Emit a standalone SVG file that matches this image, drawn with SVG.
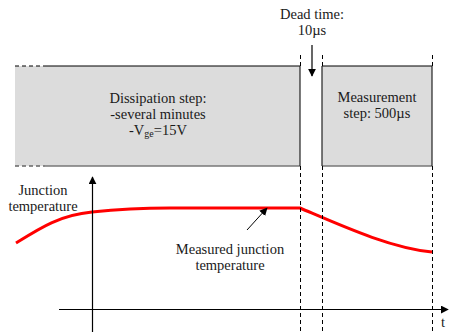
<svg xmlns="http://www.w3.org/2000/svg" width="451" height="332" viewBox="0 0 451 332">
<defs>
<style>
text{font-family:"Liberation Serif","Times New Roman",serif;font-size:14.5px;fill:#1a1a1a}
.dash{stroke:#000;stroke-width:1;stroke-dasharray:4 3;fill:none}
.ax{stroke:#000;stroke-width:1.2;fill:none}
.box{fill:#dcdcdc}
</style>
<marker id="ah" viewBox="0 0 10 10" refX="9" refY="5" markerWidth="8" markerHeight="8" markerUnits="userSpaceOnUse" orient="auto"><path d="M0,0L10,5L0,10z" fill="#000"/></marker>
</defs>
<g id="dissipation">
<rect class="box" x="15" y="66" width="285" height="100"/>
<line x1="15" y1="66" x2="45" y2="66" class="dash"/>
<line x1="45" y1="66" x2="300" y2="66" stroke="#000" stroke-width="1.2"/>
<line x1="15" y1="166" x2="45" y2="166" stroke="#666" stroke-width="1.5" stroke-dasharray="4 3"/>
<line x1="45" y1="166" x2="300" y2="166" stroke="#777" stroke-width="1.5"/>
<line x1="300" y1="66" x2="300" y2="166" stroke="#222" stroke-width="1.2"/>
<text x="158" y="103" text-anchor="middle">Dissipation step:</text>
<text x="158" y="119" text-anchor="middle">-several minutes</text>
<text x="158" y="135" text-anchor="middle">-V<tspan font-size="10" dy="2">ge</tspan><tspan dy="-2">=15V</tspan></text>
</g>
<g id="measurement">
<rect class="box" x="322" y="66" width="110" height="100"/>
<line x1="322" y1="66" x2="432" y2="66" stroke="#000" stroke-width="1.2"/>
<line x1="322" y1="166" x2="432" y2="166" stroke="#777" stroke-width="1.5"/>
<line x1="322" y1="66" x2="322" y2="166" stroke="#222" stroke-width="1.2"/>
<line x1="432" y1="66" x2="432" y2="166" stroke="#222" stroke-width="1.2"/>
<text x="377" y="102" text-anchor="middle">Measurement</text>
<text x="377" y="118" text-anchor="middle">step: 500µs</text>
</g>
<g id="deadtime">
<text x="312" y="19" text-anchor="middle">Dead time:</text>
<text x="312" y="35" text-anchor="middle">10µs</text>
</g>
<g id="junction-label">
<text x="43" y="195" text-anchor="middle">Junction</text>
<text x="43" y="211" text-anchor="middle">temperature</text>
</g>
<g id="measured-label">
<text x="230" y="254" text-anchor="middle">Measured junction</text>
<text x="230" y="270" text-anchor="middle">temperature</text>
</g>
<g id="t-label">
<text x="443" y="327" text-anchor="middle">t</text>
</g>
<g id="curve">
<path d="M16,243 C40,228 60,215 92,212 C120,209 140,208 170,208 L300,208 C340,225 390,248 432,252" fill="none" stroke="#ff0000" stroke-width="3"/>
</g>
<g id="connectors">
<line x1="300.5" y1="55" x2="300.5" y2="66" class="dash"/>
<line x1="300.5" y1="166" x2="300.5" y2="332" class="dash"/>
<line x1="322.5" y1="55" x2="322.5" y2="66" class="dash"/>
<line x1="322.5" y1="166" x2="322.5" y2="332" class="dash"/>
<line x1="432.5" y1="55" x2="432.5" y2="66" class="dash"/>
<line x1="432.5" y1="166" x2="432.5" y2="332" class="dash"/>
<line x1="312" y1="45" x2="312" y2="76" class="ax" marker-end="url(#ah)"/>
<line x1="92.5" y1="332" x2="92.5" y2="177" class="ax" marker-end="url(#ah)"/>
<line x1="59" y1="309.5" x2="448" y2="309.5" class="ax" marker-end="url(#ah)"/>
<line x1="247" y1="230" x2="267" y2="208" stroke="#000" stroke-width="1" marker-end="url(#ah)"/>
</g>
</svg>
